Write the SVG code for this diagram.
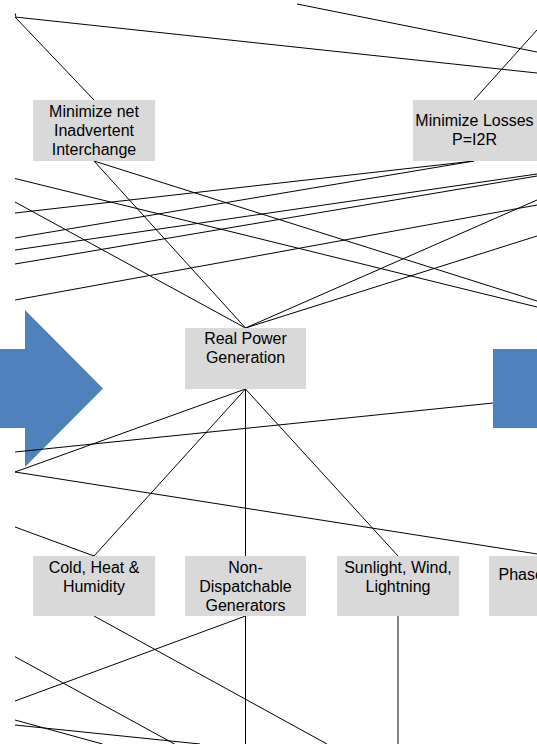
<svg xmlns="http://www.w3.org/2000/svg" width="537" height="744" viewBox="0 0 537 744">
  <style>
    .box { fill: #D9D9D9; }
    .lbl { font-family: "Liberation Sans", Arial, sans-serif; font-size: 16px; fill: #000; text-anchor: middle; }
    .edge { stroke: #000; stroke-width: 1; fill: none; }
    .blue { fill: #4F81BD; }
  </style>

  <!-- block arrows -->
  <g id="arrow-left">
    <polygon class="blue" points="0,349 25,349 25,310 103,388.5 25,467 25,428 0,428"/>
  </g>
  <g id="arrow-right">
    <rect class="blue" x="493" y="349" width="50" height="79"/>
  </g>

  <!-- connectors -->
  <g id="connectors" class="edge">
    <line x1="15.3" y1="13.5" x2="15.8" y2="16.5"/>
    <line x1="15" y1="17" x2="94" y2="100"/>
    <line x1="15" y1="17" x2="537" y2="73"/>
    <line x1="297" y1="4" x2="537" y2="52"/>
    <line x1="474" y1="100" x2="537" y2="30"/>
    <line x1="94" y1="161" x2="245.5" y2="328"/>
    <line x1="94" y1="161" x2="537" y2="301"/>
    <line x1="15" y1="178.5" x2="537" y2="307"/>
    <line x1="15" y1="202" x2="245.5" y2="328"/>
    <line x1="15" y1="213" x2="474" y2="161"/>
    <line x1="15" y1="238" x2="474" y2="161"/>
    <line x1="15" y1="250" x2="537" y2="174"/>
    <line x1="15" y1="264" x2="537" y2="176"/>
    <line x1="15" y1="300" x2="537" y2="205"/>
    <line x1="245.5" y1="328" x2="537" y2="200"/>
    <line x1="245.5" y1="328" x2="537" y2="236"/>
    <line x1="15" y1="452" x2="493" y2="403"/>
    <line x1="15" y1="472" x2="245.5" y2="389"/>
    <line x1="15" y1="472" x2="550" y2="556"/>
    <line x1="245.5" y1="389" x2="94" y2="556"/>
    <line x1="245.5" y1="389" x2="245.5" y2="556"/>
    <line x1="245.5" y1="389" x2="398" y2="556"/>
    <line x1="15" y1="527" x2="94" y2="556"/>
    <line x1="94" y1="616" x2="327" y2="744"/>
    <line x1="245.5" y1="616" x2="15" y2="701"/>
    <line x1="245.5" y1="616" x2="245.5" y2="744"/>
    <line x1="398" y1="616" x2="398" y2="744"/>
    <line x1="15" y1="656.7" x2="174.5" y2="744"/>
    <line x1="15" y1="720" x2="102.5" y2="744"/>
    <line x1="15" y1="725" x2="200" y2="744"/>
  </g>

  <!-- nodes -->
  <g id="node-inadvertent">
    <rect class="box" x="33" y="100" width="122" height="61"/>
    <text class="lbl" x="94" y="116.7">Minimize net</text>
    <text class="lbl" x="94" y="135.9">Inadvertent</text>
    <text class="lbl" x="94" y="155.1">Interchange</text>
  </g>
  <g id="node-losses">
    <rect class="box" x="413" y="100" width="130" height="61"/>
    <text class="lbl" x="474.5" y="126">Minimize Losses</text>
    <text class="lbl" x="474.5" y="144.5">P=I2R</text>
  </g>
  <g id="node-real-power">
    <rect class="box" x="185" y="328" width="121" height="61"/>
    <text class="lbl" x="245.5" y="344.3">Real Power</text>
    <text class="lbl" x="245.5" y="363.2">Generation</text>
  </g>
  <g id="node-weather">
    <rect class="box" x="33" y="556" width="122" height="60"/>
    <text class="lbl" x="94" y="572.7">Cold, Heat &amp;</text>
    <text class="lbl" x="94" y="591.9">Humidity</text>
  </g>
  <g id="node-non-dispatchable">
    <rect class="box" x="185" y="556" width="121" height="60"/>
    <text class="lbl" x="245.5" y="572.7">Non-</text>
    <text class="lbl" x="245.5" y="591.9">Dispatchable</text>
    <text class="lbl" x="245.5" y="611.1">Generators</text>
  </g>
  <g id="node-natural">
    <rect class="box" x="337" y="556" width="122" height="60"/>
    <text class="lbl" x="398" y="572.7">Sunlight, Wind,</text>
    <text class="lbl" x="398" y="591.9">Lightning</text>
  </g>
  <g id="node-phase">
    <rect class="box" x="489" y="556" width="122" height="60"/>
    <text class="lbl" x="498.5" y="580" style="text-anchor:start">Phase</text>
  </g>
</svg>
